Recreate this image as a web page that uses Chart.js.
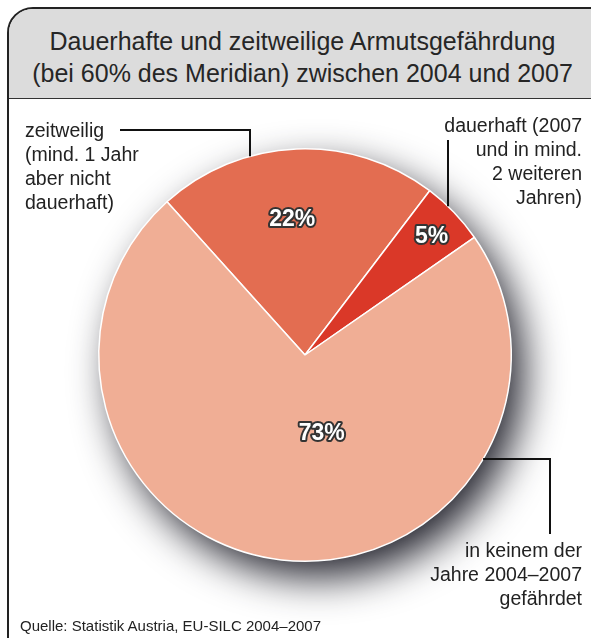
<!DOCTYPE html>
<html>
<head>
<meta charset="utf-8">
<script src="https://cdn.jsdelivr.net/npm/chart.js@4/dist/chart.umd.min.js"></script>
<style>
  html, body { margin: 0; padding: 0; background: #fff; }
  body { width: 591px; height: 638px; position: relative; overflow: hidden;
         font-family: "Liberation Sans", Arial, Helvetica, sans-serif; color: #222; }
  #frame { position: absolute; left: 7px; top: 7px; width: 620px; height: 700px;
           border: 2px solid #222; border-radius: 26px; box-sizing: border-box; overflow: hidden; }
  #titleBox { position: absolute; left: 0; top: 0; right: 0; height: 89px;
              background: #dcdcdc; border-bottom: 1.5px solid #333; }
  #title { position: absolute; left: 7px; top: 25px; width: 591px; text-align: center;
           font-size: 25px; line-height: 32px; color: #262626; }
  #chartCanvas { position: absolute; left: 0; top: 0; }
  .note { position: absolute; font-size: 19.5px; line-height: 24px; white-space: nowrap; }
  .right { text-align: right; }
  #source { position: absolute; left: 20px; top: 618px; font-size: 15px; line-height: 16px; }
</style>
</head>
<body>
<div id="frame"><div id="titleBox"></div></div>
<div id="title"></div>
<canvas id="chartCanvas" width="591" height="638"></canvas>
<div id="source"></div>

<script>
// Titel und Quelle
const titleLines = ['Dauerhafte und zeitweilige Armutsgefährdung', '(bei 60% des Meridian) zwischen 2004 und 2007'];
const sourceText = 'Quelle: Statistik Austria, EU-SILC 2004–2007';

// Kategorien (als Zeilen) und Anteile in %
const zeitweiligLines = ['zeitweilig', '(mind. 1 Jahr', 'aber nicht', 'dauerhaft)'];
const dauerhaftLines = ['dauerhaft (2007', 'und in mind.', '2 weiteren', 'Jahren)'];
const keinemLines = ['in keinem der', 'Jahre 2004–2007', 'gefährdet'];
const categories = [zeitweiligLines, dauerhaftLines, keinemLines];
const shares = [22, 5, 73];

const sliceColors = ['#e36d51', '#da3828', '#f0ae95'];

document.getElementById('title').innerHTML = titleLines.join('<br>');
document.getElementById('source').textContent = sourceText;

// Beschriftungen neben dem Kreis
const notePos = [
  { left: 25, top: 118, align: 'left' },
  { right: 9, top: 113, align: 'right' },
  { right: 9, top: 538, align: 'right' }
];
categories.forEach((lines, i) => {
  const d = document.createElement('div');
  d.className = 'note' + (notePos[i].align === 'right' ? ' right' : '');
  if (notePos[i].left !== undefined) d.style.left = notePos[i].left + 'px';
  if (notePos[i].right !== undefined) d.style.right = notePos[i].right + 'px';
  d.style.top = notePos[i].top + 'px';
  d.innerHTML = lines.join('<br>');
  document.body.appendChild(d);
});

// Schatten unter dem Kreis
const shadowPlugin = {
  id: 'pieShadow',
  beforeDatasetsDraw(chart) {
    const arc = chart.getDatasetMeta(0).data[0];
    if (!arc) return;
    const ctx = chart.ctx;
    ctx.save();
    ctx.shadowColor = 'rgba(35,35,45,1)';
    ctx.shadowBlur = 40;
    ctx.shadowOffsetX = 13;
    ctx.shadowOffsetY = 17;
    ctx.beginPath();
    ctx.arc(arc.x, arc.y, arc.outerRadius - 1, 0, Math.PI * 2);
    ctx.fillStyle = '#f0ae95';
    ctx.fill();
    ctx.restore();
  }
};

// Prozentwerte und Hinweislinien
const labelPlace = [
  { r: 0.66, da: -3 },
  { r: 0.84, da: 0.7 },
  { r: 0.39, da: -18.6 }
];
// Knickpunkte der Hinweislinien (Textseite); Ende am Kreisrand wird berechnet
const leaders = [
  { fromX: 120, y: 130, x: 250, dir: 'up' },
  { x: 448, y: 140, dir: 'up' },
  { x: 550, y: 534, elbowY: 459, dir: 'side' }
];

const labelPlugin = {
  id: 'sliceLabels',
  afterDatasetsDraw(chart) {
    const meta = chart.getDatasetMeta(0);
    const ctx = chart.ctx;
    const cx = meta.data[0].x, cy = meta.data[0].y, R = meta.data[0].outerRadius;

    ctx.save();
    ctx.strokeStyle = '#111';
    ctx.lineWidth = 2;
    leaders.forEach(l => {
      ctx.beginPath();
      if (l.dir === 'up') {
        const yEdge = cy - Math.sqrt(R * R - (l.x - cx) * (l.x - cx));
        if (l.fromX !== undefined) {
          ctx.moveTo(l.fromX, l.y);
          ctx.lineTo(l.x, l.y);
        } else {
          ctx.moveTo(l.x, l.y);
        }
        ctx.lineTo(l.x, yEdge);
      } else {
        const xEdge = cx + Math.sqrt(R * R - (l.elbowY - cy) * (l.elbowY - cy));
        ctx.moveTo(l.x, l.y);
        ctx.lineTo(l.x, l.elbowY);
        ctx.lineTo(xEdge, l.elbowY);
      }
      ctx.stroke();
    });

    ctx.font = 'bold 23px "Liberation Sans", Arial, sans-serif';
    ctx.textAlign = 'center';
    ctx.textBaseline = 'middle';
    ctx.lineJoin = 'round';
    meta.data.forEach((arc, i) => {
      const mid = (arc.startAngle + arc.endAngle) / 2 + labelPlace[i].da * Math.PI / 180;
      const r = arc.outerRadius * labelPlace[i].r;
      const x = arc.x + Math.cos(mid) * r;
      const y = arc.y + Math.sin(mid) * r;
      const txt = shares[i] + '%';
      ctx.strokeStyle = '#333';
      ctx.lineWidth = 4;
      ctx.strokeText(txt, x, y);
      ctx.fillStyle = '#fff';
      ctx.fillText(txt, x, y);
    });
    ctx.restore();
  }
};

const ctx = document.getElementById('chartCanvas').getContext('2d');
new Chart(ctx, {
  type: 'pie',
  data: {
    labels: categories.map(l => l.join(' ')),
    datasets: [{
      data: shares,
      backgroundColor: sliceColors,
      borderColor: '#ffffff',
      borderWidth: 1.5
    }]
  },
  options: {
    responsive: false,
    animation: false,
    rotation: -42,
    layout: { padding: { left: 98, top: 148, right: 79, bottom: 76 } },
    plugins: {
      legend: { display: false },
      tooltip: { enabled: false },
      title: { display: false }
    }
  },
  plugins: [shadowPlugin, labelPlugin]
});
</script>
</body>
</html>
